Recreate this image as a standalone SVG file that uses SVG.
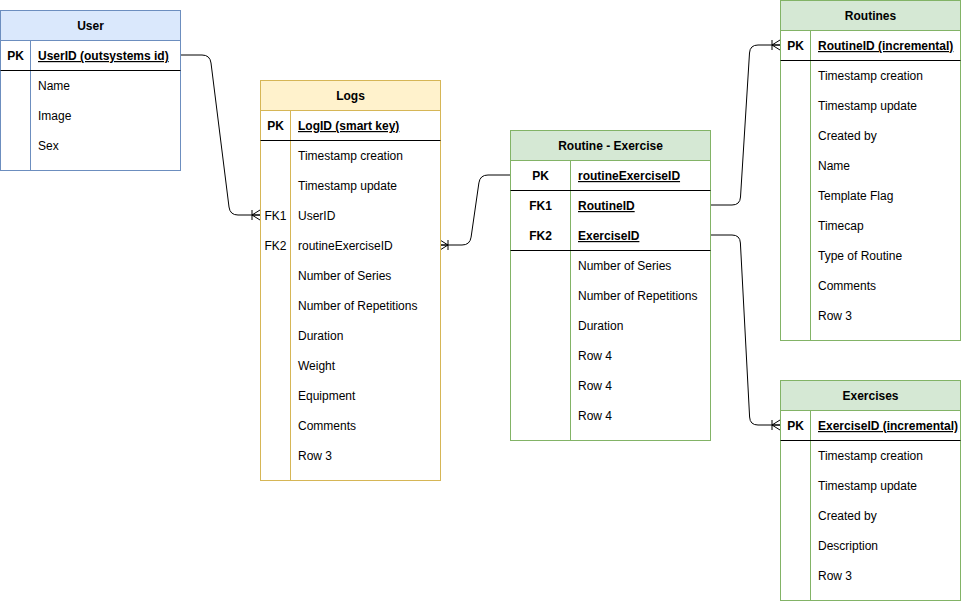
<svg xmlns="http://www.w3.org/2000/svg" width="961" height="601" viewBox="0 0 961 601">
<style>
text{font-family:"Liberation Sans",Arial,Helvetica,sans-serif;font-size:12px;fill:#000}
.h{font-weight:bold;text-anchor:middle}
.k{font-weight:bold;text-anchor:middle}
.kn{text-anchor:middle}
.u{font-weight:bold;text-decoration:underline}
.sep{stroke:#000;stroke-width:1}
.blue .box{fill:#fff;stroke:#6c8ebf}
.blue .hd{fill:#dae8fc;stroke:#6c8ebf}
.blue .ln{stroke:#6c8ebf}
.yel .box{fill:#fff;stroke:#d6b656}
.yel .hd{fill:#fff2cc;stroke:#d6b656}
.yel .ln{stroke:#d6b656}
.grn .box{fill:#fff;stroke:#82b366}
.grn .hd{fill:#d5e8d4;stroke:#82b366}
.grn .ln{stroke:#82b366}
.edge{fill:none;stroke:#000;stroke-width:1}
</style>
<defs>
<marker id="many" markerUnits="userSpaceOnUse" markerWidth="14" markerHeight="14" viewBox="-12 -7 14 14" refX="0" refY="0" orient="auto-start-reverse" overflow="visible">
<path d="M-8,-5 L-8,5 M-8,0 L0,-5 M-8,0 L0,5 M-8,0 L0,0" fill="none" stroke="#000" stroke-width="1"/>
</marker>
</defs>

<g id="connectors">
<path class="edge" d="M180,55 L202,55 Q210,55 211,63 L229,207 Q230,215 238,215 L260,215" marker-end="url(#many)"/>
<path class="edge" d="M440,245 L462,245 Q470,245 471.1,237.1 L478.9,182.9 Q480,175 488,175 L510,175" marker-start="url(#many)"/>
<path class="edge" d="M710,205 L732,205 Q740,205 740.5,197 L749.5,53 Q750,45 758,45 L780,45" marker-end="url(#many)"/>
<path class="edge" d="M710,235 L732,235 Q740,235 740.4,243 L749.6,417 Q750,425 758,425 L780,425" marker-end="url(#many)"/>
</g>

<g id="user" class="blue">
<rect class="box" x="0.5" y="10.5" width="180" height="160"/>
<rect class="hd" x="0.5" y="10.5" width="180" height="30"/>
<line class="ln" x1="30.5" y1="40.5" x2="30.5" y2="170.5"/>
<line class="sep" x1="0.5" y1="70.5" x2="180.5" y2="70.5"/>
<text class="h" x="90.5" y="30">User</text>
<text class="k" x="15.5" y="60">PK</text>
<text class="u" x="38" y="60">UserID (outsystems id)</text>
<text x="38" y="90">Name</text>
<text x="38" y="120">Image</text>
<text x="38" y="150">Sex</text>
</g>

<g id="logs" class="yel">
<rect class="box" x="260.5" y="80.5" width="180" height="400"/>
<rect class="hd" x="260.5" y="80.5" width="180" height="30"/>
<line class="ln" x1="290.5" y1="110.5" x2="290.5" y2="480.5"/>
<line class="sep" x1="260.5" y1="140.5" x2="440.5" y2="140.5"/>
<text class="h" x="350.5" y="100">Logs</text>
<text class="k" x="275.5" y="130">PK</text>
<text class="u" x="298" y="130">LogID (smart key)</text>
<text x="298" y="160">Timestamp creation</text>
<text x="298" y="190">Timestamp update</text>
<text class="kn" x="275.5" y="220">FK1</text>
<text x="298" y="220">UserID</text>
<text class="kn" x="275.5" y="250">FK2</text>
<text x="298" y="250">routineExerciseID</text>
<text x="298" y="280">Number of Series</text>
<text x="298" y="310">Number of Repetitions</text>
<text x="298" y="340">Duration</text>
<text x="298" y="370">Weight</text>
<text x="298" y="400">Equipment</text>
<text x="298" y="430">Comments</text>
<text x="298" y="460">Row 3</text>
</g>

<g id="routine-exercise" class="grn">
<rect class="box" x="510.5" y="130.5" width="200" height="310"/>
<rect class="hd" x="510.5" y="130.5" width="200" height="30"/>
<line class="ln" x1="570.5" y1="160.5" x2="570.5" y2="440.5"/>
<line class="sep" x1="510.5" y1="190.5" x2="710.5" y2="190.5"/>
<line class="sep" x1="510.5" y1="250.5" x2="710.5" y2="250.5"/>
<text class="h" x="610.5" y="150">Routine - Exercise</text>
<text class="k" x="540.5" y="180">PK</text>
<text class="u" x="578" y="180">routineExerciseID</text>
<text class="k" x="540.5" y="210">FK1</text>
<text class="u" x="578" y="210">RoutineID</text>
<text class="k" x="540.5" y="240">FK2</text>
<text class="u" x="578" y="240">ExerciseID</text>
<text x="578" y="270">Number of Series</text>
<text x="578" y="300">Number of Repetitions</text>
<text x="578" y="330">Duration</text>
<text x="578" y="360">Row 4</text>
<text x="578" y="390">Row 4</text>
<text x="578" y="420">Row 4</text>
</g>

<g id="routines" class="grn">
<rect class="box" x="780.5" y="0.5" width="180" height="340"/>
<rect class="hd" x="780.5" y="0.5" width="180" height="30"/>
<line class="ln" x1="810.5" y1="30.5" x2="810.5" y2="340.5"/>
<line class="sep" x1="780.5" y1="60.5" x2="960.5" y2="60.5"/>
<text class="h" x="870.5" y="20">Routines</text>
<text class="k" x="795.5" y="50">PK</text>
<text class="u" x="818" y="50">RoutineID (incremental)</text>
<text x="818" y="80">Timestamp creation</text>
<text x="818" y="110">Timestamp update</text>
<text x="818" y="140">Created by</text>
<text x="818" y="170">Name</text>
<text x="818" y="200">Template Flag</text>
<text x="818" y="230">Timecap</text>
<text x="818" y="260">Type of Routine</text>
<text x="818" y="290">Comments</text>
<text x="818" y="320">Row 3</text>
</g>

<g id="exercises" class="grn">
<rect class="box" x="780.5" y="380.5" width="180" height="220"/>
<rect class="hd" x="780.5" y="380.5" width="180" height="30"/>
<line class="ln" x1="810.5" y1="410.5" x2="810.5" y2="600.5"/>
<line class="sep" x1="780.5" y1="440.5" x2="960.5" y2="440.5"/>
<text class="h" x="870.5" y="400">Exercises</text>
<text class="k" x="795.5" y="430">PK</text>
<text class="u" x="818" y="430">ExerciseID (incremental)</text>
<text x="818" y="460">Timestamp creation</text>
<text x="818" y="490">Timestamp update</text>
<text x="818" y="520">Created by</text>
<text x="818" y="550">Description</text>
<text x="818" y="580">Row 3</text>
</g>
</svg>
